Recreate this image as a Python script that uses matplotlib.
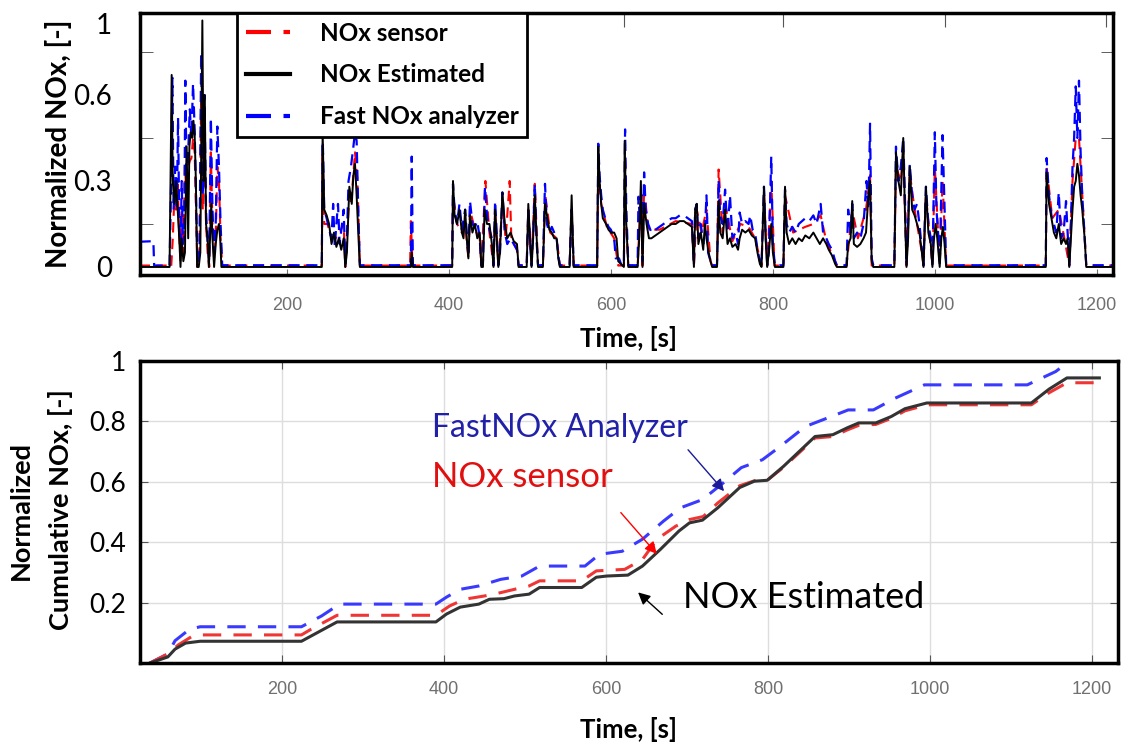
import matplotlib
matplotlib.use("Agg")
import matplotlib.pyplot as plt
import numpy as np

plt.rcParams['font.family'] = ['Lato', 'DejaVu Sans']

# ---- top panel: normalized NOx time traces (time [s], value) ----
nox_est = [(18, 0.0), (55, 0.0), (57.6, 0.67), (59, 0.3), (61, 0.22), (63, 0.3), (65, 0.2), (67, 0.1),
           (68.5, 0.0), (70, 0.1), (72, 0.02), (74, 0.05), (76, 0.42), (78, 0.1), (79.5, 0.42), (81, 0.47),
           (83, 0.45), (84.5, 0.51), (86, 0.46), (87.5, 0.3), (89, 0.0), (91, 0.0), (93, 0.05), (95.5, 0.86),
           (97, 0.3), (98.5, 0.6), (100, 0.15), (102, 0.1), (103.5, 0.0), (105, 0.1), (106.5, 0.22), (108, 0.1),
           (110, 0.0), (112, 0.08), (114, 0.13), (116, 0.15), (117.5, 0.1), (119, 0.0), (243, 0.0), (244, 0.47),
           (246, 0.2), (249, 0.18), (252, 0.15), (255, 0.08), (258, 0.12), (261, 0.07), (264, 0.1), (267, 0.06),
           (270, 0.1), (272, 0.0), (274, 0.05), (277, 0.28), (280, 0.22), (282, 0.32), (284, 0.36), (286, 0.25),
           (288, 0.12), (290, 0.0), (353, 0.0), (354, 0.05), (355.5, 0.0), (404, 0.0), (405, 0.30), (407, 0.18),
           (410, 0.15), (413, 0.2), (416, 0.12), (418, 0.1), (420, 0.2), (422, 0.1), (424, 0.03), (426, 0.18),
           (429, 0.12), (432, 0.15), (435, 0.1), (438, 0.12), (440, 0.0), (442, 0.0), (444, 0.2), (447, 0.15),
           (450, 0.15), (453, 0.08), (455, 0.0), (457, 0.2), (459, 0.1), (461, 0.0), (463, 0.05), (466, 0.26),
           (469, 0.15), (472, 0.1), (476, 0.12), (480, 0.09), (484, 0.08), (486, 0.0), (496, 0.0), (498, 0.22),
           (500, 0.1), (502, 0.0), (504, 0.1), (506, 0.25), (508, 0.12), (510, 0.0), (516, 0.0), (518.6, 0.22),
           (521, 0.18), (524, 0.13), (527, 0.12), (530, 0.1), (533, 0.1), (535, 0.03), (537, 0.0), (549, 0.0),
           (551.5, 0.25), (554, 0.0), (583, 0.0), (584.4, 0.42), (586, 0.3), (588, 0.22), (590, 0.17), (594, 0.15),
           (597, 0.13), (600, 0.12), (604, 0.12), (607, 0.1), (609, 0.02), (616, 0.0), (617, 0.44), (619, 0.15),
           (621.5, 0.0), (633, 0.0), (635, 0.1), (637, 0.3), (639, 0.0), (641, 0.22), (644, 0.15), (647, 0.1),
           (650, 0.1), (655, 0.11), (660, 0.12), (665, 0.13), (670, 0.14), (675, 0.15), (680, 0.15), (685, 0.16),
           (690, 0.16), (695, 0.15), (700, 0.14), (702.5, 0.0), (704, 0.2), (706, 0.22), (708, 0.08), (711, 0.12),
           (714, 0.06), (716, 0.15), (718, 0.1), (720, 0.06), (723, 0.02), (725, 0.0), (731, 0.0), (733, 0.23),
           (735, 0.12), (738, 0.1), (741, 0.2), (744, 0.08), (747, 0.1), (750, 0.07), (754, 0.08), (757, 0.06),
           (759, 0.1), (762, 0.13), (766, 0.12), (770, 0.13), (774, 0.11), (778, 0.1), (781, 0.05), (784, 0.01),
           (786, 0.0), (789, 0.28), (791, 0.1), (793, 0.0), (795, 0.05), (798, 0.15), (800, 0.05), (802.5, 0.0),
           (813, 0.0), (815, 0.28), (817, 0.12), (820, 0.08), (824, 0.1), (828, 0.08), (832, 0.1), (836, 0.09),
           (840, 0.11), (845, 0.1), (850, 0.12), (854, 0.1), (858, 0.08), (862, 0.1), (866, 0.08), (869, 0.06),
           (873, 0.04), (877, 0.01), (879, 0.0), (891, 0.0), (893, 0.08), (896, 0.1), (898, 0.23), (900, 0.08),
           (904, 0.07), (908, 0.08), (912, 0.1), (915, 0.12), (918, 0.25), (920, 0.3), (922, 0.02), (924, 0.0),
           (950, 0.0), (952, 0.4), (955, 0.3), (958, 0.25), (961, 0.45), (963, 0.2), (965, 0.0), (967, 0.1),
           (969, 0.35), (972, 0.2), (975, 0.18), (978, 0.15), (981, 0.12), (984, 0.05), (986, 0.0), (989, 0.28),
           (992, 0.12), (995, 0.08), (997, 0.0), (999, 0.1), (1001, 0.15), (1003, 0.1), (1006, 0.0), (1008, 0.1),
           (1010, 0.14), (1012, 0.08), (1014, 0.0), (1137, 0.0), (1138, 0.33), (1141, 0.22), (1144, 0.17),
           (1147, 0.12), (1150, 0.1), (1153, 0.15), (1156, 0.08), (1159, 0.1), (1162, 0.08), (1164, 0.1),
           (1166, 0.0), (1168, 0.1), (1170, 0.2), (1172, 0.28), (1174, 0.3), (1176, 0.36), (1178, 0.32),
           (1180, 0.25), (1182, 0.2), (1185, 0.1), (1187, 0.0), (1220, 0.0)]

nox_fast = [(18, 0.088), (35, 0.09), (36, 0.005), (55, 0.005), (57, 0.3), (58.5, 0.66), (60, 0.2), (62, 0.35),
            (64, 0.2), (65.5, 0.52), (67, 0.15), (68.5, 0.05), (70, 0.3), (71.5, 0.08), (73, 0.1), (74.5, 0.65),
            (76, 0.3), (78, 0.4), (80, 0.55), (82, 0.45), (84, 0.64), (86, 0.48), (88, 0.2), (89.5, 0.01),
            (92, 0.05), (94, 0.745), (96, 0.25), (98, 0.6), (100, 0.2), (102, 0.08), (104, 0.02), (106, 0.52),
            (108, 0.2), (110, 0.05), (112, 0.15), (114, 0.49), (116, 0.35), (118, 0.15), (120, 0.006),
            (243, 0.006), (244, 0.47), (246, 0.2), (249, 0.17), (252, 0.13), (255, 0.1), (257, 0.22), (259, 0.07),
            (261, 0.15), (263, 0.22), (265, 0.08), (268, 0.15), (270, 0.2), (272, 0.01), (274, 0.1), (276, 0.3),
            (279, 0.35), (282, 0.42), (284, 0.47), (286, 0.44), (288, 0.2), (290, 0.006), (353, 0.006),
            (354, 0.385), (355.5, 0.006), (404, 0.006), (405, 0.29), (407, 0.2), (410, 0.15), (413, 0.22),
            (416, 0.13), (420, 0.2), (422, 0.12), (424, 0.04), (426, 0.23), (429, 0.15), (432, 0.14), (435, 0.16),
            (438, 0.1), (440, 0.006), (442, 0.02), (444.5, 0.28), (447, 0.18), (450, 0.13), (453, 0.1),
            (455, 0.006), (457, 0.23), (459, 0.12), (461, 0.006), (463, 0.05), (466, 0.26), (469, 0.12),
            (472, 0.08), (476, 0.1), (480, 0.08), (484, 0.06), (486, 0.006), (496, 0.006), (498, 0.2), (500, 0.1),
            (502, 0.006), (504, 0.12), (506, 0.29), (508, 0.1), (510, 0.006), (516, 0.006), (518.6, 0.29),
            (521, 0.15), (524, 0.12), (527, 0.14), (530, 0.12), (533, 0.1), (535, 0.04), (537, 0.006),
            (549, 0.006), (551.5, 0.2), (554, 0.006), (583, 0.006), (584.4, 0.43), (586, 0.32), (588, 0.25),
            (590, 0.2), (594, 0.16), (597, 0.14), (600, 0.13), (604, 0.1), (606, 0.03), (610, 0.03), (613, 0.006),
            (616, 0.006), (617.5, 0.48), (619, 0.2), (621.5, 0.006), (633, 0.006), (634, 0.245), (636, 0.15),
            (638, 0.25), (639, 0.02), (641, 0.33), (643, 0.2), (646, 0.15), (650, 0.12), (655, 0.13), (660, 0.14),
            (665, 0.15), (670, 0.16), (675, 0.17), (680, 0.17), (685, 0.18), (690, 0.18), (695, 0.17),
            (700, 0.16), (702.5, 0.006), (704, 0.2), (706, 0.22), (708, 0.1), (711, 0.15), (714, 0.08),
            (716, 0.12), (718, 0.25), (720, 0.05), (723, 0.02), (725, 0.006), (731, 0.006), (733, 0.3),
            (735, 0.18), (738, 0.15), (741, 0.27), (744, 0.12), (747, 0.25), (750, 0.1), (754, 0.12), (757, 0.08),
            (759, 0.19), (762, 0.15), (766, 0.16), (770, 0.15), (772, 0.18), (775, 0.13), (778, 0.12),
            (781, 0.06), (784, 0.02), (786, 0.006), (789, 0.28), (791, 0.12), (793, 0.006), (795, 0.05),
            (798, 0.385), (800, 0.08), (802.5, 0.006), (813, 0.006), (815, 0.27), (817, 0.15), (820, 0.12),
            (824, 0.14), (828, 0.12), (832, 0.15), (836, 0.16), (840, 0.17), (845, 0.16), (850, 0.18),
            (854, 0.15), (859, 0.22), (862, 0.12), (866, 0.1), (869, 0.08), (873, 0.06), (877, 0.02),
            (879, 0.006), (891, 0.006), (893, 0.2), (896, 0.12), (898, 0.22), (900, 0.1), (904, 0.12),
            (908, 0.1), (912, 0.15), (915.6, 0.3), (918, 0.2), (920, 0.5), (922, 0.03), (924, 0.006),
            (950, 0.006), (952, 0.42), (955, 0.3), (958, 0.35), (961, 0.45), (963, 0.25), (965, 0.006),
            (967, 0.15), (969, 0.36), (972, 0.25), (975, 0.2), (978, 0.22), (981, 0.15), (984, 0.06),
            (986, 0.006), (989, 0.28), (992, 0.15), (995, 0.1), (997, 0.006), (1000, 0.47), (1002, 0.2),
            (1004, 0.12), (1006, 0.006), (1009.5, 0.46), (1012, 0.2), (1014, 0.006), (1137, 0.006),
            (1138, 0.38), (1141, 0.25), (1144, 0.18), (1147, 0.15), (1150, 0.12), (1153, 0.26), (1156, 0.1),
            (1159, 0.12), (1162, 0.23), (1164, 0.12), (1166, 0.006), (1168, 0.15), (1170, 0.35), (1172, 0.45),
            (1174, 0.63), (1176, 0.45), (1178, 0.65), (1180, 0.4), (1182, 0.25), (1185, 0.1), (1187, 0.006),
            (1220, 0.006)]

nox_sensor = [(18, 0.005), (55, 0.005), (57, 0.0), (59, 0.1), (61, 0.25), (63, 0.2), (65, 0.3), (67, 0.1),
              (68.5, 0.02), (70, 0.2), (72, 0.05), (74, 0.35), (76, 0.25), (78, 0.35), (80, 0.37), (82, 0.38),
              (84, 0.45), (86, 0.4), (88, 0.15), (89.5, 0.0), (92, 0.05), (94, 0.6), (96, 0.2), (98, 0.5),
              (100, 0.15), (102, 0.05), (104, 0.0), (106, 0.4), (108, 0.15), (110, 0.03), (112, 0.1), (114, 0.35),
              (116, 0.3), (118, 0.1), (120, 0.005), (243, 0.005), (244, 0.4), (246, 0.15), (250, 0.15),
              (255, 0.1), (260, 0.1), (265, 0.12), (270, 0.15), (272, 0.0), (276, 0.2), (280, 0.25), (284, 0.4),
              (287, 0.3), (289, 0.1), (290, 0.005), (352, 0.005), (353, 0.16), (355, 0.005), (404, 0.005),
              (405, 0.25), (410, 0.15), (416, 0.12), (420, 0.15), (424, 0.03), (426, 0.2), (432, 0.13),
              (438, 0.1), (440, 0.005), (445, 0.3), (450, 0.12), (455, 0.005), (457, 0.2), (461, 0.005),
              (466, 0.22), (470, 0.1), (475, 0.3), (477, 0.1), (484, 0.06), (486, 0.005), (496, 0.005),
              (498, 0.2), (502, 0.005), (506, 0.29), (510, 0.005), (516, 0.005), (519, 0.25), (525, 0.12),
              (533, 0.1), (537, 0.005), (549, 0.005), (551.5, 0.2), (554, 0.005), (583, 0.005), (584.4, 0.35),
              (588, 0.22), (595, 0.14), (604, 0.1), (609, 0.005), (616, 0.005), (617.5, 0.38), (619, 0.15),
              (621.5, 0.005), (633, 0.005), (637, 0.25), (639, 0.005), (641, 0.28), (646, 0.13), (660, 0.13),
              (680, 0.16), (700, 0.15), (702.5, 0.005), (706, 0.2), (712, 0.12), (718, 0.2), (723, 0.02),
              (725, 0.005), (731, 0.005), (733, 0.34), (738, 0.12), (741, 0.22), (750, 0.09), (760, 0.15),
              (770, 0.14), (778, 0.1), (786, 0.005), (789, 0.26), (793, 0.005), (798, 0.3), (802, 0.005),
              (813, 0.005), (815, 0.25), (825, 0.12), (840, 0.14), (850, 0.15), (859, 0.18), (866, 0.09),
              (879, 0.005), (891, 0.005), (898, 0.2), (905, 0.1), (915, 0.2), (920, 0.32), (922, 0.005),
              (950, 0.005), (952, 0.35), (958, 0.3), (961, 0.4), (965, 0.005), (969, 0.33), (975, 0.2),
              (984, 0.05), (986, 0.005), (989, 0.25), (997, 0.005), (1000, 0.35), (1006, 0.005), (1009.5, 0.3),
              (1014, 0.005), (1137, 0.005), (1138, 0.35), (1145, 0.17), (1153, 0.2), (1160, 0.1), (1166, 0.005),
              (1170, 0.3), (1174, 0.45), (1178, 0.45), (1180, 0.35), (1185, 0.1), (1187, 0.005), (1220, 0.005)]

top_ytick_pos = [0, 0.3, 0.6, 0.85]
top_ytick_lab = ['0', '0.3', '0.6', '1']

# ---- bottom panel: normalized cumulative NOx ----
cum_est = [(37, 0), (59, 0.02), (68, 0.046), (81, 0.066), (99, 0.072), (224, 0.072), (268, 0.136), (390, 0.136),
           (403, 0.162), (420, 0.185), (443, 0.195), (456, 0.211), (474, 0.213), (487, 0.222), (505, 0.228),
           (518, 0.25), (570, 0.25), (588, 0.284), (601, 0.288), (627, 0.291), (645, 0.321), (667, 0.376),
           (690, 0.437), (703, 0.464), (719, 0.473), (738, 0.514), (765, 0.581), (783, 0.602), (799, 0.605),
           (819, 0.651), (858, 0.75), (880, 0.756), (898, 0.779), (912, 0.795), (933, 0.795), (952, 0.816),
           (969, 0.842), (996, 0.861), (1125, 0.861), (1147, 0.907), (1169, 0.944), (1209, 0.944)]
cum_sensor = [(37, 0), (59, 0.03), (72, 0.06), (90, 0.09), (100, 0.093), (224, 0.093), (236, 0.112),
              (268, 0.158), (390, 0.158), (407, 0.189), (425, 0.211), (450, 0.222), (470, 0.233), (487, 0.244),
              (505, 0.255), (518, 0.272), (570, 0.272), (588, 0.305), (623, 0.31), (645, 0.343), (663, 0.41),
              (686, 0.453), (703, 0.475), (720, 0.485), (738, 0.53), (765, 0.587), (785, 0.605), (799, 0.605),
              (819, 0.648), (858, 0.745), (880, 0.75), (898, 0.772), (912, 0.787), (933, 0.79), (952, 0.81),
              (969, 0.835), (996, 0.855), (1125, 0.855), (1147, 0.895), (1169, 0.928), (1209, 0.928)]
cum_fast = [(37, 0), (59, 0.03), (68, 0.074), (86, 0.112), (99, 0.12), (224, 0.12), (249, 0.156), (271, 0.195),
            (390, 0.195), (403, 0.218), (420, 0.244), (443, 0.255), (470, 0.277), (496, 0.288), (518, 0.321),
            (574, 0.321), (592, 0.36), (620, 0.37), (645, 0.41), (671, 0.47), (692, 0.514), (719, 0.541),
            (745, 0.597), (767, 0.647), (793, 0.673), (815, 0.717), (846, 0.783), (876, 0.814), (899, 0.838),
            (930, 0.838), (957, 0.877), (993, 0.921), (1120, 0.921), (1155, 0.965), (1175, 1.005), (1209, 1.01)]

xticks = [200, 400, 600, 800, 1000, 1200]
bottom_yticks = [0.2, 0.4, 0.6, 0.8, 1.0]
bottom_ylab = ['0.2', '0.4', '0.6', '0.8', '1']

W, H = 1125, 749
fig = plt.figure(figsize=(W / 100, H / 100), dpi=100)

def px_axes(l, t, r, b):
    return fig.add_axes([l / W, 1 - b / H, (r - l) / W, (b - t) / H])

gray = '#707070'

# ======== top ========
ax1 = px_axes(140, 13, 1113, 275)
t, v = np.array(nox_sensor).T
ax1.plot(t, v, color='red', lw=1.5, dashes=(5, 3))
t, v = np.array(nox_fast).T
ax1.plot(t, v, color='blue', lw=1.6, dashes=(5, 3))
t, v = np.array(nox_est).T
ax1.plot(t, v, color='black', lw=1.4)
ax1.set_xlim(18.5, 1220)
ax1.set_ylim(-0.028, 0.886)
ax1.set_xticks(xticks)
ax1.set_xticklabels([str(x) for x in xticks], family='Liberation Sans', fontsize=13, color=gray)
ax1.tick_params(axis='x', direction='in', length=4, pad=16, color=gray)
ax1.set_yticks(top_ytick_pos)
ax1.set_yticklabels(top_ytick_lab, fontsize=20)
ax1.tick_params(axis='y', which='major', length=0, pad=20)
ax1.set_yticks(np.arange(0, 0.76, 0.15), minor=True)
ax1.tick_params(axis='y', which='minor', direction='in', length=9, left=True, right=True, color='#444444')
for s in ax1.spines.values():
    s.set_linewidth(2.5)
sec = ax1.secondary_xaxis('top')
sec.set_xticks([616, 813, 1012, 1211])
sec.set_xticklabels([])
sec.tick_params(direction='in', length=10, color='#555555')
sec.spines['top'].set_visible(False)

h_sen, = ax1.plot([], [], color='red', lw=3, dashes=(6, 3))
h_est, = ax1.plot([], [], color='black', lw=3)
h_fast, = ax1.plot([], [], color='blue', lw=3, dashes=(6, 3))
leg = ax1.legend([h_sen, h_est, h_fast], ['NOx sensor', 'NOx Estimated', 'Fast NOx analyzer'],
                 loc='upper left', bbox_to_anchor=(0.0997, 1.0), borderaxespad=0,
                 prop={'weight': 'bold', 'size': 17.5}, fancybox=False, framealpha=1,
                 edgecolor='black', handlelength=1.85, handletextpad=1.2, labelspacing=0.78,
                 borderpad=0.35)
leg.get_frame().set_linewidth(2)

fig.text(58 / W, 1 - 144 / H, 'Normalized NOx, [-]', rotation=90, ha='center', va='center',
         fontsize=20, fontweight='bold')
fig.text(628 / W, 1 - 338 / H, 'Time, [s]', ha='center', va='center', fontsize=18.5, fontweight='bold')

# ======== bottom ========
ax2 = px_axes(140, 361, 1118, 663)
t, v = np.array(cum_fast).T
ax2.plot(t, v, color='#3a3aff', lw=2.2, dashes=(6, 4))
t, v = np.array(cum_sensor).T
ax2.plot(t, v, color='#f03535', lw=2.2, dashes=(6, 4))
t, v = np.array(cum_est).T
ax2.plot(t, v, color='#333333', lw=2.2)
ax2.set_xlim(24.7, 1232)
ax2.set_ylim(0, 1)
ax2.set_xticks(xticks)
ax2.set_xticklabels([str(x) for x in xticks], family='Liberation Sans', fontsize=13, color=gray)
ax2.set_yticks(bottom_yticks)
ax2.set_yticklabels(bottom_ylab, fontsize=19)
ax2.tick_params(axis='both', direction='in', top=True, right=True, length=6, color='#555555')
ax2.tick_params(axis='x', pad=13)
ax2.tick_params(axis='y', pad=10)
ax2.grid(True, color='#dddddd', lw=1)
for s in ax2.spines.values():
    s.set_linewidth(2.5)

ax2.text(385, 0.779, 'FastNOx Analyzer', color='#2020a8', fontsize=23, ha='left', va='center')
ax2.text(385, 0.617, 'NOx sensor', color='#e01010', fontsize=25, ha='left', va='center')
ax2.text(695, 0.218, 'NOx Estimated', color='black', fontsize=26, ha='left', va='center')
ax2.annotate('', xy=(748, 0.562), xytext=(699, 0.713),
             arrowprops=dict(arrowstyle='-|>', color='#1a1a9a', lw=1, mutation_scale=18))
ax2.annotate('', xy=(665, 0.354), xytext=(616, 0.505),
             arrowprops=dict(arrowstyle='-|>', color='red', lw=1, mutation_scale=18))
ax2.annotate('', xy=(637, 0.240), xytext=(672, 0.155),
             arrowprops=dict(arrowstyle='-|>', color='black', lw=1, mutation_scale=18))

fig.text(41 / W, 1 - 510 / H, 'Normalized\nCumulative NOx, [-]', rotation=90, ha='center', va='center',
         fontsize=19.5, fontweight='bold', multialignment='center', linespacing=1.7)
fig.text(628 / W, 1 - 730 / H, 'Time, [s]', ha='center', va='center', fontsize=18.5, fontweight='bold')

fig.savefig('out.png', dpi=100)
